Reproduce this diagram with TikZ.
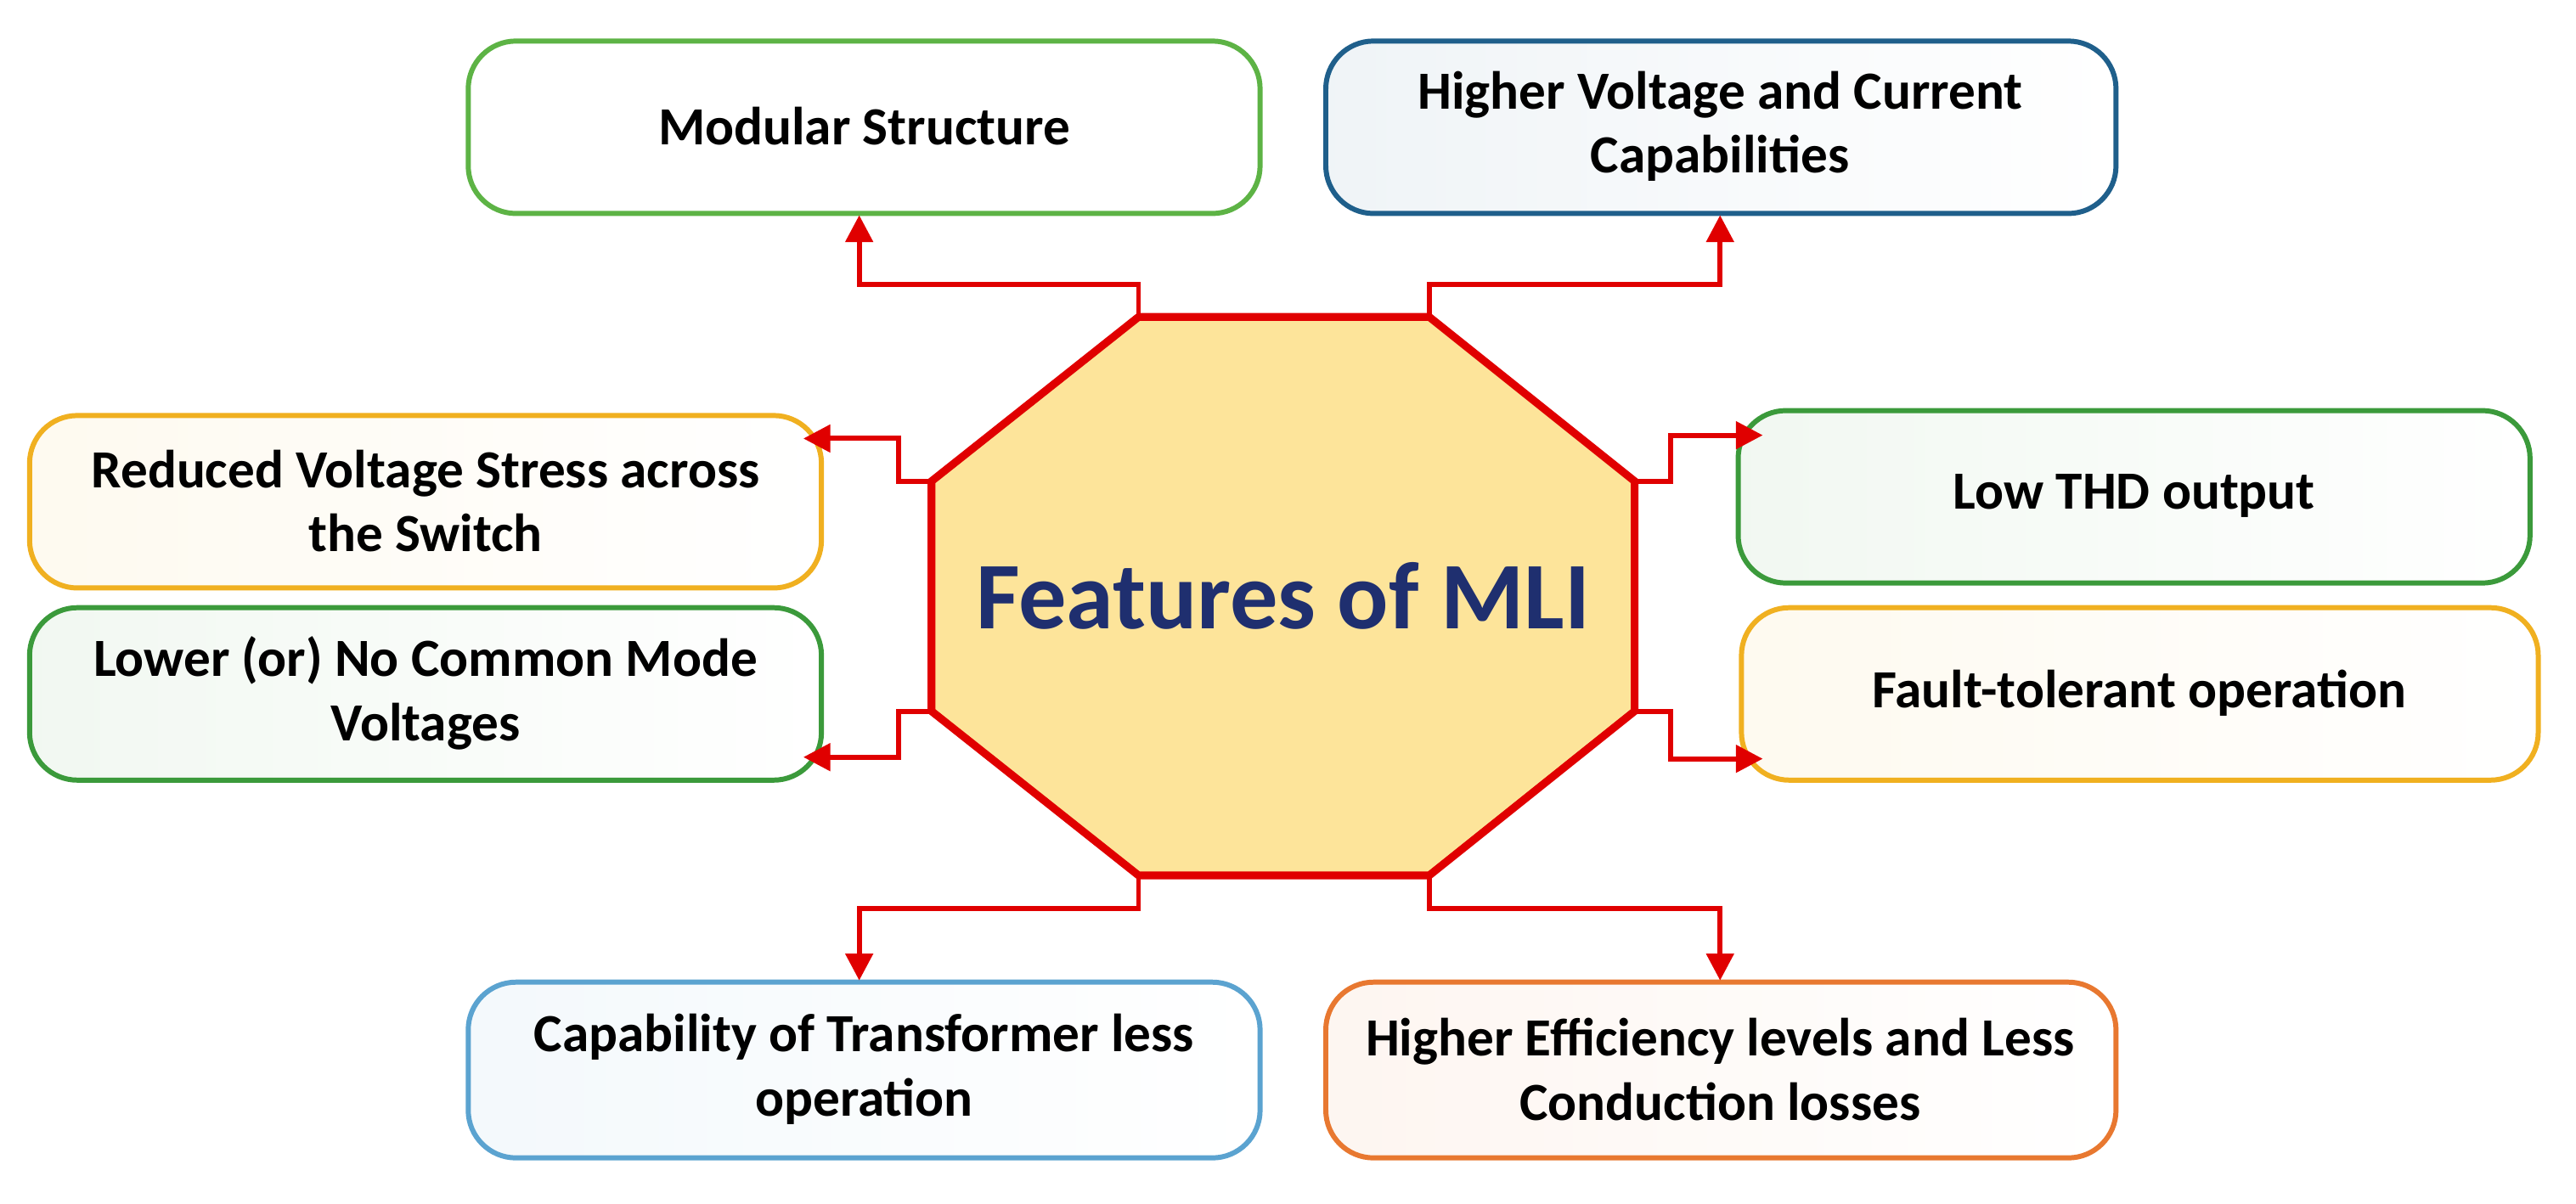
\documentclass[tikz,border=0pt]{standalone}
\usepackage{fontspec}
\setmainfont{Carlito}
\usetikzlibrary{arrows.meta}
\definecolor{myred}{HTML}{E00000}
\definecolor{gA}{HTML}{5DB345}
\definecolor{bA}{HTML}{1F5F8B}
\definecolor{oA}{HTML}{F0B020}
\definecolor{gB}{HTML}{3B9A3B}
\definecolor{lb}{HTML}{5BA3D0}
\definecolor{oB}{HTML}{E87830}
\definecolor{octf}{HTML}{FDE49A}
\definecolor{ttl}{HTML}{1F2F6F}
\tikzset{
 box/.style={draw=#1, line width=1.7pt, rounded corners=16pt, left color=#1!7, right color=white},
 lbl/.style={align=center, font=\bfseries\fontsize{18}{21.5}\selectfont},
 conn/.style={draw=myred, line width=1.7pt, -{Triangle[length=9pt,width=9pt]}}
}
\begin{document}
\begin{tikzpicture}[x=0.019344cm,y=-0.019344cm]
\useasboundingbox (0,0) rectangle (1568,733);
\path[draw=gA, line width=1.7pt, rounded corners=16pt, fill=white] (285,25) rectangle (767,130);
\node[lbl] (n1) at (526,77) {Modular Structure};
\path[box=bA] (807,25) rectangle (1288,130);
\node[lbl] (n2) at (1047,77) {Higher Voltage and Current\\Capabilities};
\path[box=oA] (18,253) rectangle (500,358);
\node[lbl] (n3) at (259,305) {Reduced Voltage Stress across\\the Switch};
\path[box=gB] (18,370) rectangle (500,475);
\node[lbl] (n4) at (259,422) {Lower (or) No Common Mode\\Voltages};
\path[box=gB] (1058,250) rectangle (1540,355);
\node[lbl] (n5) at (1299,302) {Low THD output};
\path[box=oA] (1060,370) rectangle (1545,475);
\node[lbl] (n6) at (1302,422) {Fault-tolerant operation};
\path[box=lb] (285,598) rectangle (767,705);
\node[lbl] (n7) at (526,651) {Capability of Transformer less\\operation};
\path[box=oB] (807,598) rectangle (1288,705);
\node[lbl] (n8) at (1047,651) {Higher Efficiency levels and Less\\Conduction losses};
% octagon
\draw[myred, line width=2.6pt, fill=octf, line join=miter] (693,193) coordinate (a1) -- (870,193) coordinate (a2) -- (995,293) coordinate (a3) -- (995,433) coordinate (a4) -- (870,533) coordinate (a5) -- (693,533) coordinate (a6) -- (567,433) coordinate (a7) -- (567,293) coordinate (a8) -- cycle;
\node[font=\bfseries\fontsize{32}{38}\selectfont, text=ttl] (oct) at (781,363) {Features of MLI};
\coordinate (t1) at (523,131); \coordinate (t2) at (1047,131);
\coordinate (t3) at (489,267); \coordinate (t4) at (489,461);
\coordinate (t5) at (1073,265); \coordinate (t6) at (1073,462);
\coordinate (t7) at (523,597); \coordinate (t8) at (1047,597);
\draw[conn] (a1) -- (693,173) -| (t1);
\draw[conn] (a2) -- (870,173) -| (t2);
\draw[conn] (a8) -- (547,293) |- (t3);
\draw[conn] (a7) -- (547,433) |- (t4);
\draw[conn] (a3) -- (1017,293) |- (t5);
\draw[conn] (a4) -- (1017,433) |- (t6);
\draw[conn] (a6) -- (693,553) -| (t7);
\draw[conn] (a5) -- (870,553) -| (t8);
\end{tikzpicture}
\end{document}
